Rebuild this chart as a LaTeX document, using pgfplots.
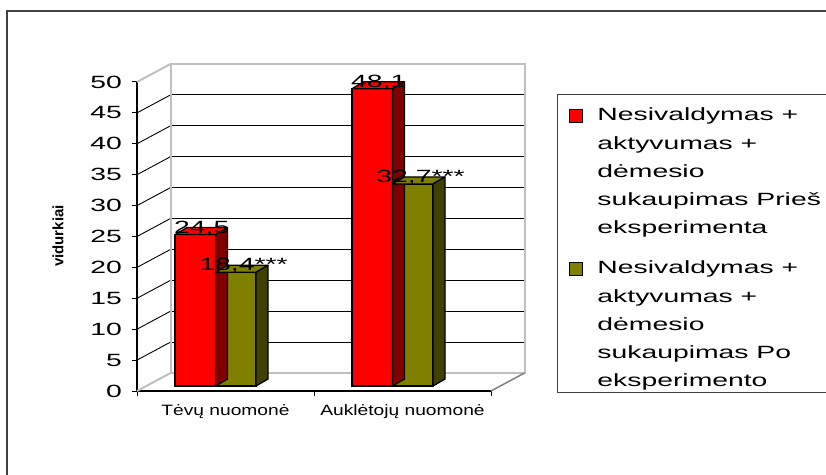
\documentclass[border=0pt]{standalone}
\usepackage{fontspec}
\usepackage{pgfplots}
\usepackage{pgfplotstable}
\pgfplotsset{compat=1.18}
\setmainfont{Liberation Sans}
\newfontfamily\wfont[FakeStretch=1.6]{Liberation Sans}
\newfontfamily\cfont[FakeStretch=1.28]{Liberation Sans}
\definecolor{barred}{HTML}{FF0000}
\definecolor{redside}{HTML}{800000}
\definecolor{barolive}{HTML}{808000}
\definecolor{oliveside}{HTML}{404000}
\definecolor{wallgray}{HTML}{C0C0C0}
\definecolor{framegray}{HTML}{404040}
\pgfdeclareplotmark{emptymark}{}
\pgfplotsset{sqlegend/.style={legend image code/.code={\draw[##1] (0pt,-2.5pt) rectangle (13pt,10.5pt);}}}
\newcommand\ls{\rule[-4pt]{0pt}{17pt}}

\pgfplotstableread{
x v lab
0.5 24.5 {24,5}
1.5 48.1 {48,1}
}\pre
\pgfplotstableread{
x v lab
0.5 18.4 {18,4***}
1.5 32.7 {32,7***}
}\post

\begin{document}
\begin{tikzpicture}[x=1pt,y=1pt]
\useasboundingbox (0,0) rectangle (826,474);
\clip (0,0) rectangle (826,474);
\draw[line width=1.3pt, framegray] (7,-20) -- (7,463) -- (850,463);

% front plane: axis, ticks, walls, legend
\begin{axis}[
  at={(137pt,83pt)}, anchor=south west,
  scale only axis, width=354pt, height=309pt,
  xmin=0, xmax=2, ymin=0, ymax=50, clip=false,
  axis x line*=bottom, axis y line*=left,
  axis line style={black, line width=1.2pt},
  ytick={0,5,...,50},
  xtick={0,1,2}, xticklabels={},
  extra x ticks={0.5,1.5},
  extra x tick labels={Tėvų nuomonė,Auklėtojų nuomonė},
  extra x tick style={major tick length=0pt,
    xticklabel style={font=\cfont\fontsize{15}{18}\selectfont, anchor=base, yshift=-24pt}},
  tick align=outside, major tick length=5pt,
  tick style={black, line width=1pt},
  yticklabel style={font=\wfont\fontsize{17.7}{20}\selectfont, anchor=east, inner sep=0pt, xshift=-10pt},
  /pgf/number format/assume math mode=true,
  ylabel={vidurkiai},
  ylabel style={font=\bfseries\fontsize{15}{18}\selectfont, at={(axis description cs:-0.2232,0.5016)}, anchor=center},
  legend style={at={(axis description cs:1.1864,0.9612)}, anchor=north west,
    draw=framegray, line width=1pt, inner xsep=12pt, inner ysep=4.5pt,
    font=\wfont\fontsize{17.7}{20}\selectfont, row sep=13.4pt, column sep=14pt,
    nodes={inner sep=0pt}, cells={anchor=base west}},
]
% back wall gridlines and side wall
\pgfplotsinvokeforeach{5,10,15,20,25,30,35,40,45}{
  \draw[black, line width=0.9pt] ([shift={(33.5pt,18pt)}]axis cs:0,#1) -- ([shift={(33.5pt,18pt)}]axis cs:2,#1);
  \draw[black, line width=0.9pt] (axis cs:0,#1) -- ++(33.5pt,18pt);
}
\draw[wallgray, line width=2pt] ([shift={(33.5pt,18pt)}]axis cs:0,0) rectangle ([shift={(33.5pt,18pt)}]axis cs:2,50);
\draw[wallgray, line width=2pt] (axis cs:0,50) -- ++(33.5pt,18pt);
\draw[wallgray, line width=2pt] (axis cs:0,0) -- ++(33.5pt,18pt);
\draw[black!50, line width=1.5pt] (axis cs:2,0) -- ++(33.5pt,18pt);

\addlegendimage{sqlegend, fill=barred, draw=black, line width=1pt}
\addlegendentry{\rule[-4pt]{0pt}{25.5pt}Nesivaldymas +}
\addlegendimage{empty legend}\addlegendentry{\ls aktyvumas +}
\addlegendimage{empty legend}\addlegendentry{\ls dėmesio}
\addlegendimage{empty legend}\addlegendentry{\ls sukaupimas Prieš\hspace*{20pt}}
\addlegendimage{empty legend}\addlegendentry{\ls eksperimenta}
\addlegendimage{sqlegend, fill=barolive, draw=black, line width=1pt}
\addlegendentry{\rule[-4pt]{0pt}{29pt}Nesivaldymas +}
\addlegendimage{empty legend}\addlegendentry{\ls aktyvumas +}
\addlegendimage{empty legend}\addlegendentry{\ls dėmesio}
\addlegendimage{empty legend}\addlegendentry{\ls sukaupimas Po}
\addlegendimage{empty legend}\addlegendentry{\ls eksperimento}
\end{axis}

% bar plane
\begin{axis}[
  at={(127pt,88pt)}, anchor=south west,
  scale only axis, width=354pt, height=309pt,
  xmin=0, xmax=2, ymin=0, ymax=50, clip=false,
  hide axis,
]
\addplot[ybar, bar width=40.5pt, bar shift=-20.25pt, fill=barred, draw=black, line width=1.3pt]
  table[x=x, y=v] {\pre};
\addplot[scatter, only marks, mark=emptymark,
  visualization depends on={\thisrow{v} \as \val},
  scatter/@pre marker code/.code={%
    \pgfmathsetmacro\hb{7-\val*6.18}%
    \pgfmathsetmacro\hh{-\val*6.18}%
    \filldraw[fill=barred, draw=black, line width=1.3pt, line join=round] (-40.5pt,0pt) -- (-28.5pt,7pt) -- (12pt,7pt) -- (0pt,0pt) -- cycle;
    \filldraw[fill=redside, draw=black, line width=1.3pt, line join=round] (0pt,0pt) -- (12pt,7pt) -- (12pt,\hb pt) -- (0pt,\hh pt) -- cycle;
  },
  scatter/@post marker code/.code={}]
  table[x=x, y=v] {\pre};
\addplot[ybar, bar width=40.5pt, bar shift=20.25pt, fill=barolive, draw=black, line width=1.3pt]
  table[x=x, y=v] {\post};
\addplot[scatter, only marks, mark=emptymark,
  visualization depends on={\thisrow{v} \as \val},
  scatter/@pre marker code/.code={%
    \pgfmathsetmacro\hb{7-\val*6.18}%
    \pgfmathsetmacro\hh{-\val*6.18}%
    \filldraw[fill=barolive, draw=black, line width=1.3pt, line join=round] (0pt,0pt) -- (12pt,7pt) -- (52.5pt,7pt) -- (40.5pt,0pt) -- cycle;
    \filldraw[fill=oliveside, draw=black, line width=1.3pt, line join=round] (40.5pt,0pt) -- (52.5pt,7pt) -- (52.5pt,\hb pt) -- (40.5pt,\hh pt) -- cycle;
  },
  scatter/@post marker code/.code={}]
  table[x=x, y=v] {\post};
% data labels
\addplot[only marks, mark=emptymark, nodes near coords, point meta=explicit symbolic,
  nodes near coords style={font=\wfont\fontsize{17.7}{20}\selectfont, anchor=base, inner sep=0pt, xshift=-13.75pt, yshift=1.5pt}]
  table[x=x, y=v, meta=lab] {\pre};
\addplot[only marks, mark=emptymark, nodes near coords, point meta=explicit symbolic,
  nodes near coords style={font=\wfont\fontsize{17.7}{20}\selectfont, anchor=base, inner sep=0pt, xshift=28pt, yshift=1.5pt}]
  table[x=x, y=v, meta=lab] {\post};
\end{axis}
\end{tikzpicture}
\end{document}
